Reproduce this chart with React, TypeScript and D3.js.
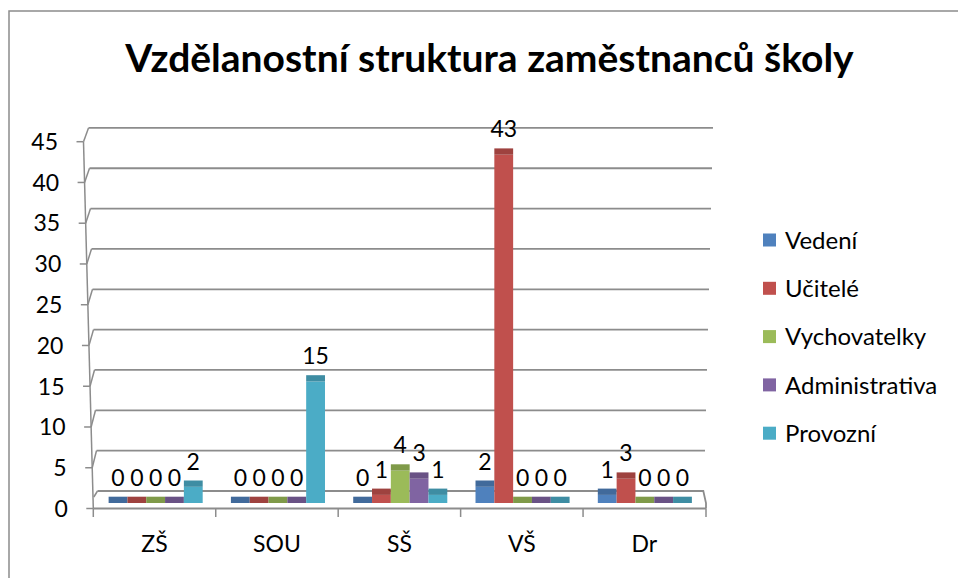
import React from "react";
import * as d3 from "d3";

const title = "Vzdělanostní struktura zaměstnanců školy";
const categories = ["ZŠ", "SOU", "SŠ", "VŠ", "Dr"];
const seriesNames = ["Vedení", "Učitelé", "Vychovatelky", "Administrativa", "Provozní"];
const vedeni = [0, 0, 0, 2, 1];
const ucitele = [0, 0, 1, 43, 3];
const vychovatelky = [0, 0, 4, 0, 0];
const administrativa = [0, 0, 3, 0, 0];
const provozni = [2, 15, 1, 0, 0];
const seriesValues = [vedeni, ucitele, vychovatelky, administrativa, provozni];
const colors = ["#4F81BD", "#C0504D", "#9BBB59", "#8064A2", "#4BACC6"];
const yTicks = [0, 5, 10, 15, 20, 25, 30, 35, 40, 45];

const FONT = "Lato, 'Noto Sans', sans-serif";
const GRID = "#8c8c8c";

export default function App() {
  const W = 958, H = 578;
  const maxV = 45;
  const yBack = d3.scaleLinear().domain([0, maxV]).range([491, 127.9]);
  const yFront = d3.scaleLinear().domain([0, maxV]).range([508.5, 141.7]);
  const xLeftBack = d3.scaleLinear().domain([0, maxV]).range([97.5, 88.5]);
  const xRightBack = d3.scaleLinear().domain([0, maxV]).range([704, 713]);
  const xFrontEdge = d3.scaleLinear().domain([0, maxV]).range([93.3, 83.5]);
  const yBar = d3.scaleLinear().domain([0, maxV]).range([503, 503 - 8.1 * maxV]);

  const xCat = d3.scaleBand<string>().domain(categories).range([93.3, 705.5]).padding(0);
  const xGroup = d3.scaleBand<string>().domain(categories).range([94.5, 706]).padding(0);
  const step = xGroup.step();
  const bw = step / (seriesNames.length + 1.5);
  const xSeries = d3
    .scaleBand<string>()
    .domain(seriesNames)
    .range([0.75 * bw, 0.75 * bw + bw * seriesNames.length])
    .padding(0);
  const topDepth = 6.3;

  const darker = (c: string) => d3.color(c)!.darker(0.55).formatHex();

  const boundaries = [...categories.map((c) => xCat(c)!), xCat.range()[1]];

  return (
    <svg
      width={W}
      height={H}
      style={{ position: "fixed", left: 0, top: 0, background: "#fff" }}
      fontFamily={FONT}
    >
      <rect x={9} y={11} width={W + 20} height={H + 20} fill="#fff" stroke="#8c8c8c" strokeWidth={1.5} />
      <text x={489.5} y={72} textAnchor="middle" fontSize={39} fontWeight="bold" fill="#000">
        {title}
      </text>

      {/* back wall gridlines and side wall */}
      {yTicks.filter((v) => v > 0).map((v) => (
        <g key={"g" + v}>
          <line x1={xLeftBack(v)} x2={xRightBack(v)} y1={yBack(v)} y2={yBack(v)} stroke={GRID} strokeWidth={1.8} />
          <line x1={xFrontEdge(v)} y1={yFront(v)} x2={xLeftBack(v)} y2={yBack(v)} stroke={GRID} strokeWidth={1.5} />
        </g>
      ))}
      {/* side wall front edge */}
      <line x1={xFrontEdge(maxV)} y1={yFront(maxV)} x2={xFrontEdge(0)} y2={yFront(0)} stroke={GRID} strokeWidth={1.5} />
      {/* floor */}
      <path
        d={`M${xLeftBack(0)},${yBack(0)} L${xRightBack(0) - 0.7},${yBack(0)} L${706},${503} L${706},${yFront(0)}`}
        fill="none"
        stroke={GRID}
        strokeWidth={1.8}
      />
      <line x1={xLeftBack(0)} y1={yBack(0)} x2={xFrontEdge(0) + 0.5} y2={497} stroke={GRID} strokeWidth={1.5} />
      {/* category axis */}
      <line x1={xFrontEdge(0)} x2={706} y1={yFront(0)} y2={yFront(0)} stroke={GRID} strokeWidth={1.8} />
      {boundaries.map((x, i) => (
        <line key={"ct" + i} x1={i === boundaries.length - 1 ? 706 : x} x2={i === boundaries.length - 1 ? 706 : x} y1={yFront(0)} y2={517} stroke={GRID} strokeWidth={1.5} />
      ))}
      {/* value axis ticks and labels */}
      {yTicks.map((v) => (
        <g key={"yt" + v}>
          <line x1={xFrontEdge(v) - 7} x2={xFrontEdge(v)} y1={yFront(v)} y2={yFront(v)} stroke={GRID} strokeWidth={1.5} />
          <text x={xFrontEdge(v) - 25.5} y={yFront(v)} dy="0.36em" textAnchor="end" fontSize={23} fill="#000">
            {v}
          </text>
        </g>
      ))}
      {categories.map((c) => (
        <text key={"cl" + c} x={xCat(c)! + xCat.bandwidth() / 2} y={552} textAnchor="middle" fontSize={23} fill="#000">
          {c}
        </text>
      ))}

      {/* bars */}
      {categories.map((c, ci) =>
        seriesNames.map((s, si) => {
          const v = seriesValues[si][ci];
          const x = xGroup(c)! + xSeries(s)!;
          const yt = yBar(v);
          const yb = yBar(0);
          return (
            <g key={"b" + ci + "-" + si}>
              {v > 0 && <rect x={x} y={yt} width={bw} height={yb - yt} fill={colors[si]} />}
              <rect x={x} y={yt - topDepth} width={bw} height={topDepth} fill={darker(colors[si])} />
            </g>
          );
        })
      )}
      {/* data labels */}
      {categories.map((c, ci) =>
        seriesNames.map((s, si) => {
          const v = seriesValues[si][ci];
          const x = xGroup(c)! + xSeries(s)! + bw / 2;
          return (
            <text key={"dl" + ci + "-" + si} x={x} y={yBar(v) - 25.5} dy="0.36em" textAnchor="middle" fontSize={23} fill="#000">
              {v}
            </text>
          );
        })
      )}

      {/* legend */}
      {seriesNames.map((s, i) => {
        const cy = 240 + i * 48.3;
        return (
          <g key={"lg" + s}>
            <rect x={763} y={cy - 6.5} width={13} height={13} fill={colors[i]} />
            <text x={785} y={cy} dy="0.36em" fontSize={24} fill="#000">
              {s}
            </text>
          </g>
        );
      })}
    </svg>
  );
}
